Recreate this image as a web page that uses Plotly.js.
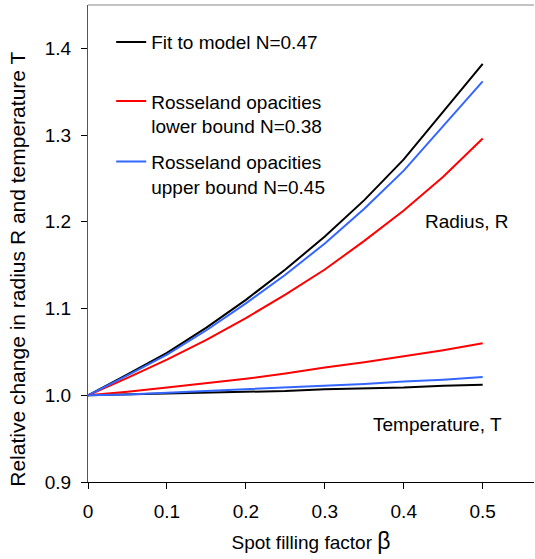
<!DOCTYPE html>
<html><head><meta charset="utf-8">
<script src="https://cdn.plot.ly/plotly-3.0.1.min.js"></script>
<style>html,body{margin:0;padding:0;background:#fff}</style>
</head><body><div id="chart" style="width:535px;height:559px"></div>
<script>
const beta = [0, 0.05, 0.1, 0.15, 0.2, 0.25, 0.3, 0.35, 0.4, 0.45, 0.5];
const fitR   = [1.0, 1.024, 1.049, 1.078, 1.110, 1.145, 1.183, 1.225, 1.272, 1.327, 1.382];
const lowR   = [1.0, 1.020, 1.041, 1.064, 1.089, 1.116, 1.145, 1.178, 1.213, 1.252, 1.296];
const upR    = [1.0, 1.023, 1.047, 1.075, 1.106, 1.139, 1.175, 1.215, 1.259, 1.310, 1.362];
const fitT   = [1.0, 1.001, 1.002, 1.003, 1.004, 1.005, 1.007, 1.008, 1.009, 1.011, 1.012];
const lowT   = [1.0, 1.004, 1.009, 1.014, 1.019, 1.025, 1.032, 1.038, 1.045, 1.052, 1.060];
const upT    = [1.0, 1.001, 1.003, 1.005, 1.007, 1.009, 1.011, 1.013, 1.016, 1.018, 1.021];
const names = ['Fit to model N=0.47', 'Rosseland opacities<br>lower bound N=0.38', 'Rosseland opacities<br>upper bound N=0.45'];
const colors = ['#000000', '#ff0000', '#3366ff'];
const legendIds = ['legend', 'legend2', 'legend2'];
const xTickVals = [0, 0.1, 0.2, 0.3, 0.4, 0.5];
const xTickText = ['0', '0.1', '0.2', '0.3', '0.4', '0.5'];
const yTickVals = [0.9, 1.0, 1.1, 1.2, 1.3, 1.4];
const yTickText = ['0.9', '1.0', '1.1', '1.2', '1.3', '1.4'];

const radius = [fitR, lowR, upR];
const temp = [fitT, lowT, upT];
const traces = [];
for (let i = 0; i < 3; i++) {
  traces.push({x: beta, y: radius[i], type: 'scatter', mode: 'lines', name: names[i],
    legend: legendIds[i], legendgroup: 'g' + i, line: {color: colors[i], width: 2}, showlegend: true});
}
for (let i = 0; i < 3; i++) {
  traces.push({x: beta, y: temp[i], type: 'scatter', mode: 'lines', name: names[i],
    legend: legendIds[i], legendgroup: 'g' + i, line: {color: colors[i], width: 2}, showlegend: false});
}
const FAM = 'Arial, "Liberation Sans", sans-serif';
const FS = 19;
const legendCommon = {xanchor: 'left', yanchor: 'top', bgcolor: 'rgba(0,0,0,0)',
  font: {family: FAM, size: FS, color: '#000'}, valign: 'top', traceorder: 'grouped'};
const layout = {
  width: 535, height: 559,
  margin: {l: 88, r: 1, t: 5, b: 77},
  paper_bgcolor: '#fff', plot_bgcolor: '#fff',
  font: {family: FAM, size: FS, color: '#000'},
  showlegend: true,
  legend: Object.assign({x: 0.052, y: 0.962, tracegroupgap: 0}, legendCommon),
  legend2: Object.assign({x: 0.052, y: 0.838, tracegroupgap: 8}, legendCommon),
  xaxis: {range: [0, 0.565], tickvals: xTickVals, ticktext: xTickText, ticks: 'outside', ticklen: 6,
    tickcolor: '#000', showline: true, linecolor: '#000', linewidth: 1, showgrid: false, zeroline: false,
    tickfont: {size: FS}, ticklabelstandoff: 6,
    title: {text: 'Spot filling factor <span style="font-size:23px">\u03b2</span>', font: {size: FS}, standoff: 14}},
  yaxis: {range: [0.9, 1.45], tickvals: yTickVals, ticktext: yTickText, ticks: 'outside', ticklen: 6,
    tickcolor: '#000', showline: true, linecolor: '#555', linewidth: 1, showgrid: false, zeroline: false,
    tickfont: {size: FS}, ticklabelstandoff: 6},
  shapes: [{type: 'line', xref: 'paper', yref: 'paper', x0: 0, x1: 1, y0: 1, y1: 1, line: {color: '#888', width: 1}}],
  annotations: [
    {x: -0.157, y: 0.447, xref: 'paper', yref: 'paper', text: 'Relative change in radius R and temperature T',
      textangle: -90, showarrow: false, font: {size: 21}, xanchor: 'center', yanchor: 'middle'},
    {x: 0.48, y: 1.2, xref: 'x', yref: 'y', text: 'Radius, R', showarrow: false, font: {size: FS}},
    {x: 0.443, y: 0.966, xref: 'x', yref: 'y', text: 'Temperature, T', showarrow: false, font: {size: FS}}
  ]
};
Plotly.newPlot('chart', traces, layout, {displayModeBar: false, staticPlot: true});
</script></body></html>
